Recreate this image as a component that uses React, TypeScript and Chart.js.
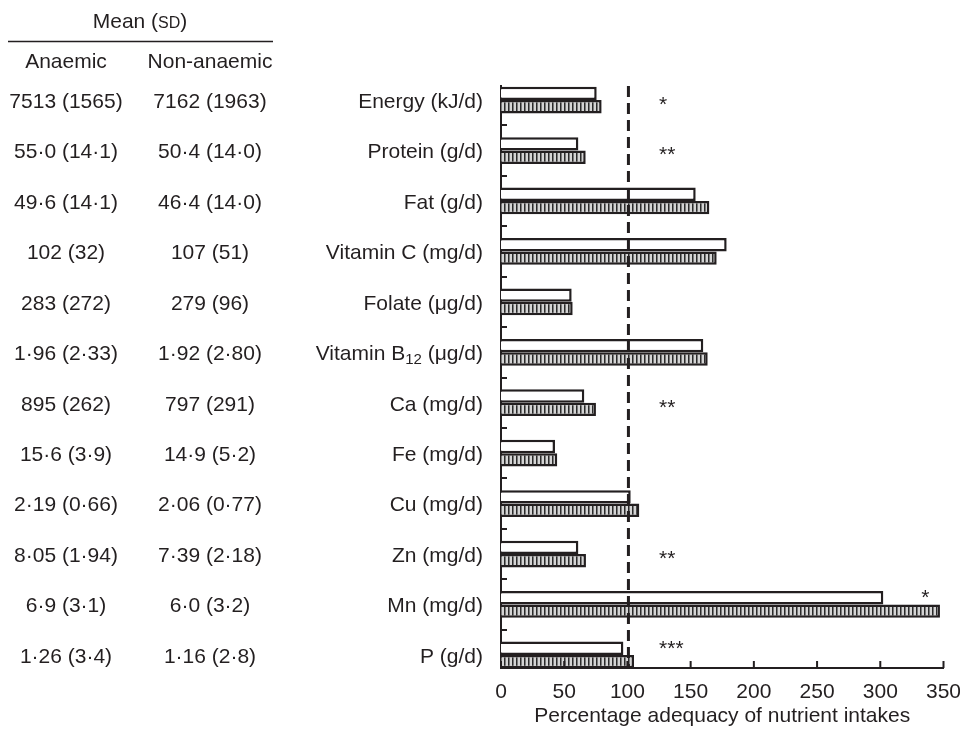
import React, { useEffect, useRef } from "react";
import { Chart, registerables } from "chart.js";

Chart.register(...registerables);

// ---------------- data ----------------
const nutrients = [
  "Energy (kJ/d)",
  "Protein (g/d)",
  "Fat (g/d)",
  "Vitamin C (mg/d)",
  "Folate (μg/d)",
  "Vitamin B_12 (μg/d)",
  "Ca (mg/d)",
  "Fe (mg/d)",
  "Cu (mg/d)",
  "Zn (mg/d)",
  "Mn (mg/d)",
  "P (g/d)",
];
const anaemicMeanSD = [
  "7513 (1565)", "55·0 (14·1)", "49·6 (14·1)", "102 (32)", "283 (272)", "1·96 (2·33)",
  "895 (262)", "15·6 (3·9)", "2·19 (0·66)", "8·05 (1·94)", "6·9 (3·1)", "1·26 (3·4)",
];
const nonAnaemicMeanSD = [
  "7162 (1963)", "50·4 (14·0)", "46·4 (14·0)", "107 (51)", "279 (96)", "1·92 (2·80)",
  "797 (291)", "14·9 (5·2)", "2·06 (0·77)", "7·39 (2·18)", "6·0 (3·2)", "1·16 (2·8)",
];
// percentage adequacy (open bars = non-anaemic, hatched bars = anaemic)
const nonAnaemicAdequacy = [75.7, 61.2, 154, 178.5, 55.9, 160, 65.9, 42.7, 102.6, 61.2, 302.4, 96.8];
const anaemicAdequacy = [79.6, 67.0, 164.8, 170.6, 56.7, 163.5, 75.1, 44.5, 109.4, 67.2, 347.2, 105.2];
const significance = ["*", "**", "", "", "", "", "**", "", "", "**", "*", "***"];
const xTickValues = [0, 50, 100, 150, 200, 250, 300, 350];
const referenceValue = 100;
const xAxisTitle = "Percentage adequacy of nutrient intakes";
const columnHeaders = ["Anaemic", "Non-anaemic"];

// ---------------- style ----------------
const INK = "#231f20";
const FONT = "'Liberation Sans', Arial, Helvetica, sans-serif";
const FS = 21;

function makeHatch(): CanvasPattern | string {
  const c = document.createElement("canvas");
  c.width = 4;
  c.height = 4;
  const g = c.getContext("2d");
  if (!g) return "#aaa";
  g.fillStyle = "#d4d4d4";
  g.fillRect(0, 0, 4, 4);
  g.fillStyle = "#2a2a2a";
  g.fillRect(0, 0, 1, 4);
  g.fillStyle = "#7a7a7a";
  g.fillRect(1, 0, 1, 4);
  const p = g.createPattern(c, "repeat");
  return p || "#aaa";
}

function drawLabel(ctx: CanvasRenderingContext2D, text: string, right: number, y: number) {
  const m = text.match(/^(.*?)_(\d+)(.*)$/);
  ctx.textBaseline = "middle";
  if (!m) {
    ctx.textAlign = "right";
    ctx.font = `${FS}px ${FONT}`;
    ctx.fillText(text, right, y);
    return;
  }
  const [, a, sub, b] = m;
  ctx.font = `${FS}px ${FONT}`;
  const wa = ctx.measureText(a).width;
  const wb = ctx.measureText(b).width;
  ctx.font = `${FS - 6}px ${FONT}`;
  const ws = ctx.measureText(sub).width;
  let x = right - wa - ws - wb;
  ctx.textAlign = "left";
  ctx.font = `${FS}px ${FONT}`;
  ctx.fillText(a, x, y);
  x += wa;
  ctx.font = `${FS - 6}px ${FONT}`;
  ctx.fillText(sub, x, y + 6);
  x += ws;
  ctx.font = `${FS}px ${FONT}`;
  ctx.fillText(b, x, y);
}

const overlayPlugin = {
  id: "overlay",
  afterDatasetsDraw(chart: any) {
    const { ctx, chartArea, scales } = chart;
    const x = scales.x;
    const y = scales.y;
    ctx.save();
    // dashed reference line at 100 %
    ctx.strokeStyle = INK;
    ctx.lineWidth = 3;
    ctx.setLineDash([11, 6]);
    const rx = x.getPixelForValue(referenceValue) + 1;
    ctx.beginPath();
    ctx.moveTo(rx, chartArea.top);
    ctx.lineTo(rx, chartArea.bottom);
    ctx.stroke();
    ctx.setLineDash([]);
    // inward tick marks
    ctx.lineWidth = 2;
    ctx.beginPath();
    xTickValues.forEach((v) => {
      const px = x.getPixelForValue(v);
      ctx.moveTo(px, chartArea.bottom);
      ctx.lineTo(px, chartArea.bottom - 7);
    });
    for (let i = 0; i < nutrients.length - 1; i++) {
      const py = Math.round(y.getPixelForValue(i + 0.5));
      ctx.moveTo(chartArea.left, py);
      ctx.lineTo(chartArea.left + 6, py);
    }
    ctx.stroke();
    // significance markers
    ctx.fillStyle = INK;
    ctx.font = `${FS}px ${FONT}`;
    ctx.textAlign = "left";
    ctx.textBaseline = "middle";
    significance.forEach((s, i) => {
      if (!s) return;
      const big = anaemicAdequacy[i] > 120 || nonAnaemicAdequacy[i] > 120;
      const v = big ? nonAnaemicAdequacy[i] + 30 : 125;
      const upper = big || i === nutrients.length - 1;
      const cy = y.getPixelForValue(upper ? i - 0.22 : i);
      ctx.fillText(s, x.getPixelForValue(v), cy + 5);
    });
    ctx.restore();
  },
  afterDraw(chart: any) {
    const { ctx, scales } = chart;
    const y = scales.y;
    ctx.save();
    ctx.fillStyle = INK;
    // header
    ctx.font = `${FS}px ${FONT}`;
    const p1 = "Mean (";
    const p3 = ")";
    const w1 = ctx.measureText(p1).width;
    const w3 = ctx.measureText(p3).width;
    ctx.font = `${FS - 5}px ${FONT}`;
    const w2 = ctx.measureText("SD").width;
    let hx = 140 - (w1 + w2 + w3) / 2;
    ctx.textBaseline = "middle";
    ctx.textAlign = "left";
    ctx.font = `${FS}px ${FONT}`;
    ctx.fillText(p1, hx, 22);
    hx += w1;
    ctx.font = `${FS - 5}px ${FONT}`;
    ctx.fillText("SD", hx, 24);
    hx += w2;
    ctx.font = `${FS}px ${FONT}`;
    ctx.fillText(p3, hx, 22);
    ctx.strokeStyle = INK;
    ctx.lineWidth = 1.5;
    ctx.beginPath();
    ctx.moveTo(8, 41.5);
    ctx.lineTo(273, 41.5);
    ctx.stroke();
    ctx.textAlign = "center";
    ctx.fillText(columnHeaders[0], 66, 62);
    ctx.fillText(columnHeaders[1], 210, 62);
    // rows
    nutrients.forEach((n, i) => {
      const py = y.getPixelForValue(i) + 2;
      ctx.textAlign = "center";
      ctx.font = `${FS}px ${FONT}`;
      ctx.fillText(anaemicMeanSD[i], 66, py);
      ctx.fillText(nonAnaemicMeanSD[i], 210, py);
      drawLabel(ctx, n, 483, py);
    });
    ctx.restore();
  },
};

export default function App() {
  const ref = useRef<HTMLCanvasElement | null>(null);
  useEffect(() => {
    if (!ref.current) return;
    const hatch = makeHatch();
    const chart = new Chart(ref.current, {
      type: "bar",
      data: {
        datasets: [
          {
            label: "Non-anaemic",
            data: nonAnaemicAdequacy.map((v, i) => ({ x: v, y: i })),
            backgroundColor: "#ffffff",
            borderColor: INK,
            borderWidth: 2.5,
            borderSkipped: "start",
          },
          {
            label: "Anaemic",
            data: anaemicAdequacy.map((v, i) => ({ x: v, y: i })),
            backgroundColor: hatch as any,
            borderColor: INK,
            borderWidth: 2.5,
            borderSkipped: "start",
          },
        ],
      },
      options: {
        indexAxis: "y",
        responsive: false,
        animation: false,
        devicePixelRatio: 1,
        layout: { padding: { top: 86, right: 16.5, left: 0, bottom: 0 } },
        datasets: { bar: { barPercentage: 1.0, categoryPercentage: 0.53 } },
        plugins: { legend: { display: false }, tooltip: { enabled: false } },
        scales: {
          x: {
            type: "linear",
            min: 0,
            max: 350,
            afterBuildTicks: (s: any) => {
              s.ticks = xTickValues.map((v) => ({ value: v }));
            },
            ticks: { color: INK, font: { size: FS, family: FONT }, padding: 12 },
            grid: { display: false, drawTicks: false },
            border: { display: true, color: INK, width: 2 },
            title: {
              display: true,
              text: xAxisTitle,
              color: INK,
              font: { size: FS, family: FONT },
              padding: { top: 0, bottom: 7 },
            },
            afterFit: (s: any) => {
              s.height = 68;
              s.paddingLeft = 0;
              s.paddingRight = 0;
            },
          },
          y: {
            type: "linear",
            reverse: true,
            offset: false,
            min: -0.28,
            max: 11.26,
            afterBuildTicks: (s: any) => {
              s.ticks = nutrients.map((_, i) => ({ value: i }));
            },
            ticks: { display: false },
            grid: { display: false, drawTicks: false },
            border: { display: true, color: INK, width: 2 },
            afterFit: (s: any) => {
              s.width = 501;
              s.paddingTop = 0;
              s.paddingBottom = 0;
            },
          },
        },
      } as any,
      plugins: [overlayPlugin],
    });
    return () => chart.destroy();
  }, []);
  return (
    <div style={{ position: "absolute", left: 0, top: 0, width: 960, height: 736, background: "#fff" }}>
      <canvas ref={ref} width={960} height={736} style={{ display: "block" }} />
    </div>
  );
}
